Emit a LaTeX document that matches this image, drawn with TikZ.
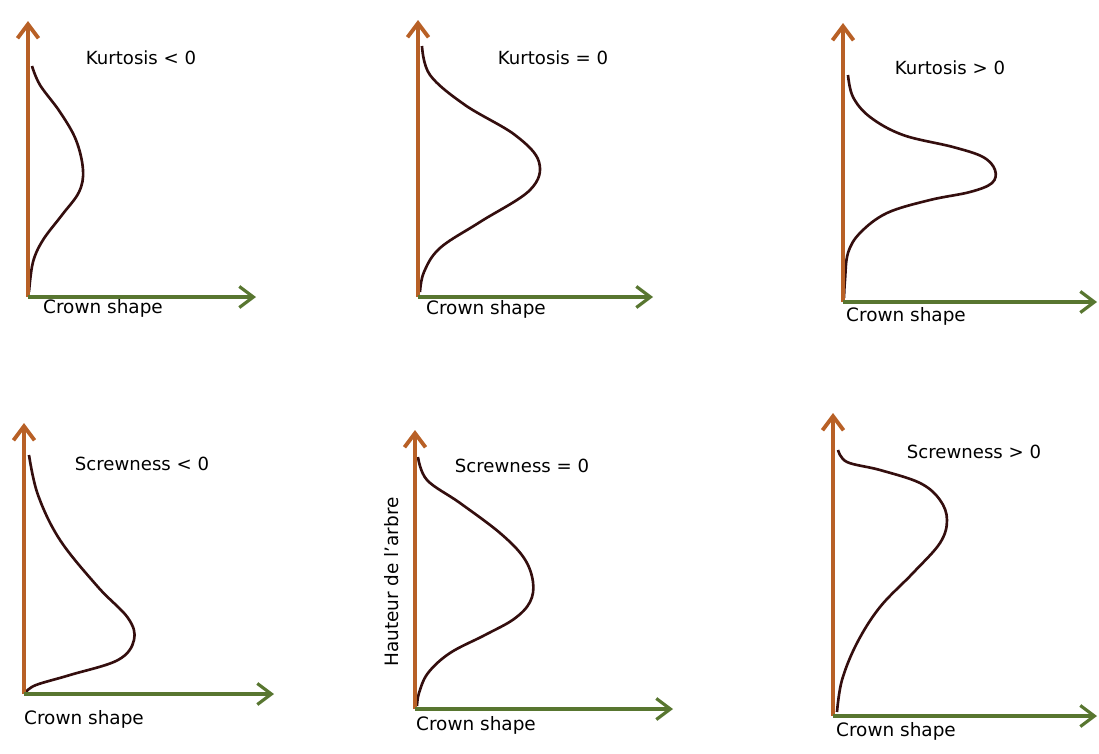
\documentclass[tikz,border=0pt]{standalone}
\usepackage{fontspec}
\setmainfont{DejaVu Sans}
\usetikzlibrary{arrows.meta}
\definecolor{heightaxis}{RGB}{184,96,38}
\definecolor{crownaxis}{RGB}{88,118,48}
\definecolor{profile}{RGB}{52,14,14}

\begin{document}
\begin{tikzpicture}[x=0.02cm,y=-0.02cm]
  \tikzset{vaxis/.style={draw=heightaxis,line width=2.2pt,-{Straight Barb[length=8pt,width=12pt]}}}
  \tikzset{haxis/.style={draw=crownaxis,line width=1.8pt,-{Straight Barb[length=8pt,width=12pt]}}}
  \tikzset{crowncurve/.style={draw=profile,line width=1.5pt,smooth,tension=0.6}}
  \tikzset{title/.style={font=\fontsize{10.3}{12}\selectfont,inner sep=1pt,text=black}}
  \tikzset{xlabel/.style={font=\fontsize{10.5}{12}\selectfont,inner sep=1pt,text=black}}
  \useasboundingbox (0,0) rectangle (1099,754);
  % top row
  \coordinate (o1) at (28,297);
  \coordinate (y1) at (28,21);
  \coordinate (x1) at (256,297);
  \coordinate (o2) at (418,297);
  \coordinate (y2) at (418,20);
  \coordinate (x2) at (653,297);
  \coordinate (o3) at (843,302);
  \coordinate (y3) at (843,23);
  \coordinate (x3) at (1097,302);
  % bottom row
  \coordinate (o4) at (24,694);
  \coordinate (y4) at (24,423);
  \coordinate (x4) at (274,694);
  \coordinate (o5) at (415,709);
  \coordinate (y5) at (415,430);
  \coordinate (x5) at (673,709);
  \coordinate (o6) at (833,716);
  \coordinate (y6) at (833,413);
  \coordinate (x6) at (1097,716);
  % profiles
  \draw[crowncurve] plot coordinates {(32,66) (40,85) (60,112) (76,140) (83,170) (79,192) (62,215) (43,240) (33,262) (29,292)};
  \draw[crowncurve] plot coordinates {(422,46) (430,75) (465,105) (515,135) (539,162) (530,190) (480,222) (440,248) (424,272) (420,292)};
  \draw[crowncurve] plot coordinates {(848,75) (853,97) (870,117) (903,135) (953,147) (983,157) (995,170) (992,183) (970,192) (930,200) (887,213) (860,233) (848,253) (845,280) (844,298)};
  \draw[crowncurve] plot coordinates {(29,455) (38,495) (60,540) (98,587) (128,618) (134,640) (118,660) (70,675) (36,685) (26,692)};
  \draw[crowncurve] plot coordinates {(418,457) (427,480) (460,503) (500,533) (524,558) (533,582) (530,602) (514,619) (485,635) (450,653) (428,673) (419,693) (417,706)};
  \draw[crowncurve] plot coordinates {(838,450) (847,462) (880,470) (920,483) (940,500) (947,520) (940,543) (913,573) (880,607) (857,643) (842,680) (837,712)};
  % axes
  \draw[vaxis] (o1) -- (y1);
  \draw[haxis] (o1) -- (x1);
  \draw[vaxis] (o2) -- (y2);
  \draw[haxis] (o2) -- (x2);
  \draw[vaxis] (o3) -- (y3);
  \draw[haxis] (o3) -- (x3);
  \draw[vaxis] (o4) -- (y4);
  \draw[haxis] (o4) -- (x4);
  \draw[vaxis] (o5) -- (y5);
  \draw[haxis] (o5) -- (x5);
  \draw[vaxis] (o6) -- (y6);
  \draw[haxis] (o6) -- (x6);
  % labels
  \node[title] (k1) at (141,58) {Kurtosis < 0};
  \node[title] (k2) at (553,58) {Kurtosis = 0};
  \node[title] (k3) at (950,68) {Kurtosis > 0};
  \node[title] (s1) at (142,464) {Screwness < 0};
  \node[title] (s2) at (522,466) {Screwness = 0};
  \node[title] (s3) at (974,452) {Screwness > 0};
  \node[xlabel] (c1) at (103,308) {Crown shape};
  \node[xlabel] (c2) at (486,309) {Crown shape};
  \node[xlabel] (c3) at (906,316) {Crown shape};
  \node[xlabel] (c4) at (84,719) {Crown shape};
  \node[xlabel] (c5) at (476,725) {Crown shape};
  \node[xlabel] (c6) at (896,731) {Crown shape};
  \node[xlabel,rotate=90] (h) at (392,582) {Hauteur de l'arbre};
\end{tikzpicture}
\end{document}
